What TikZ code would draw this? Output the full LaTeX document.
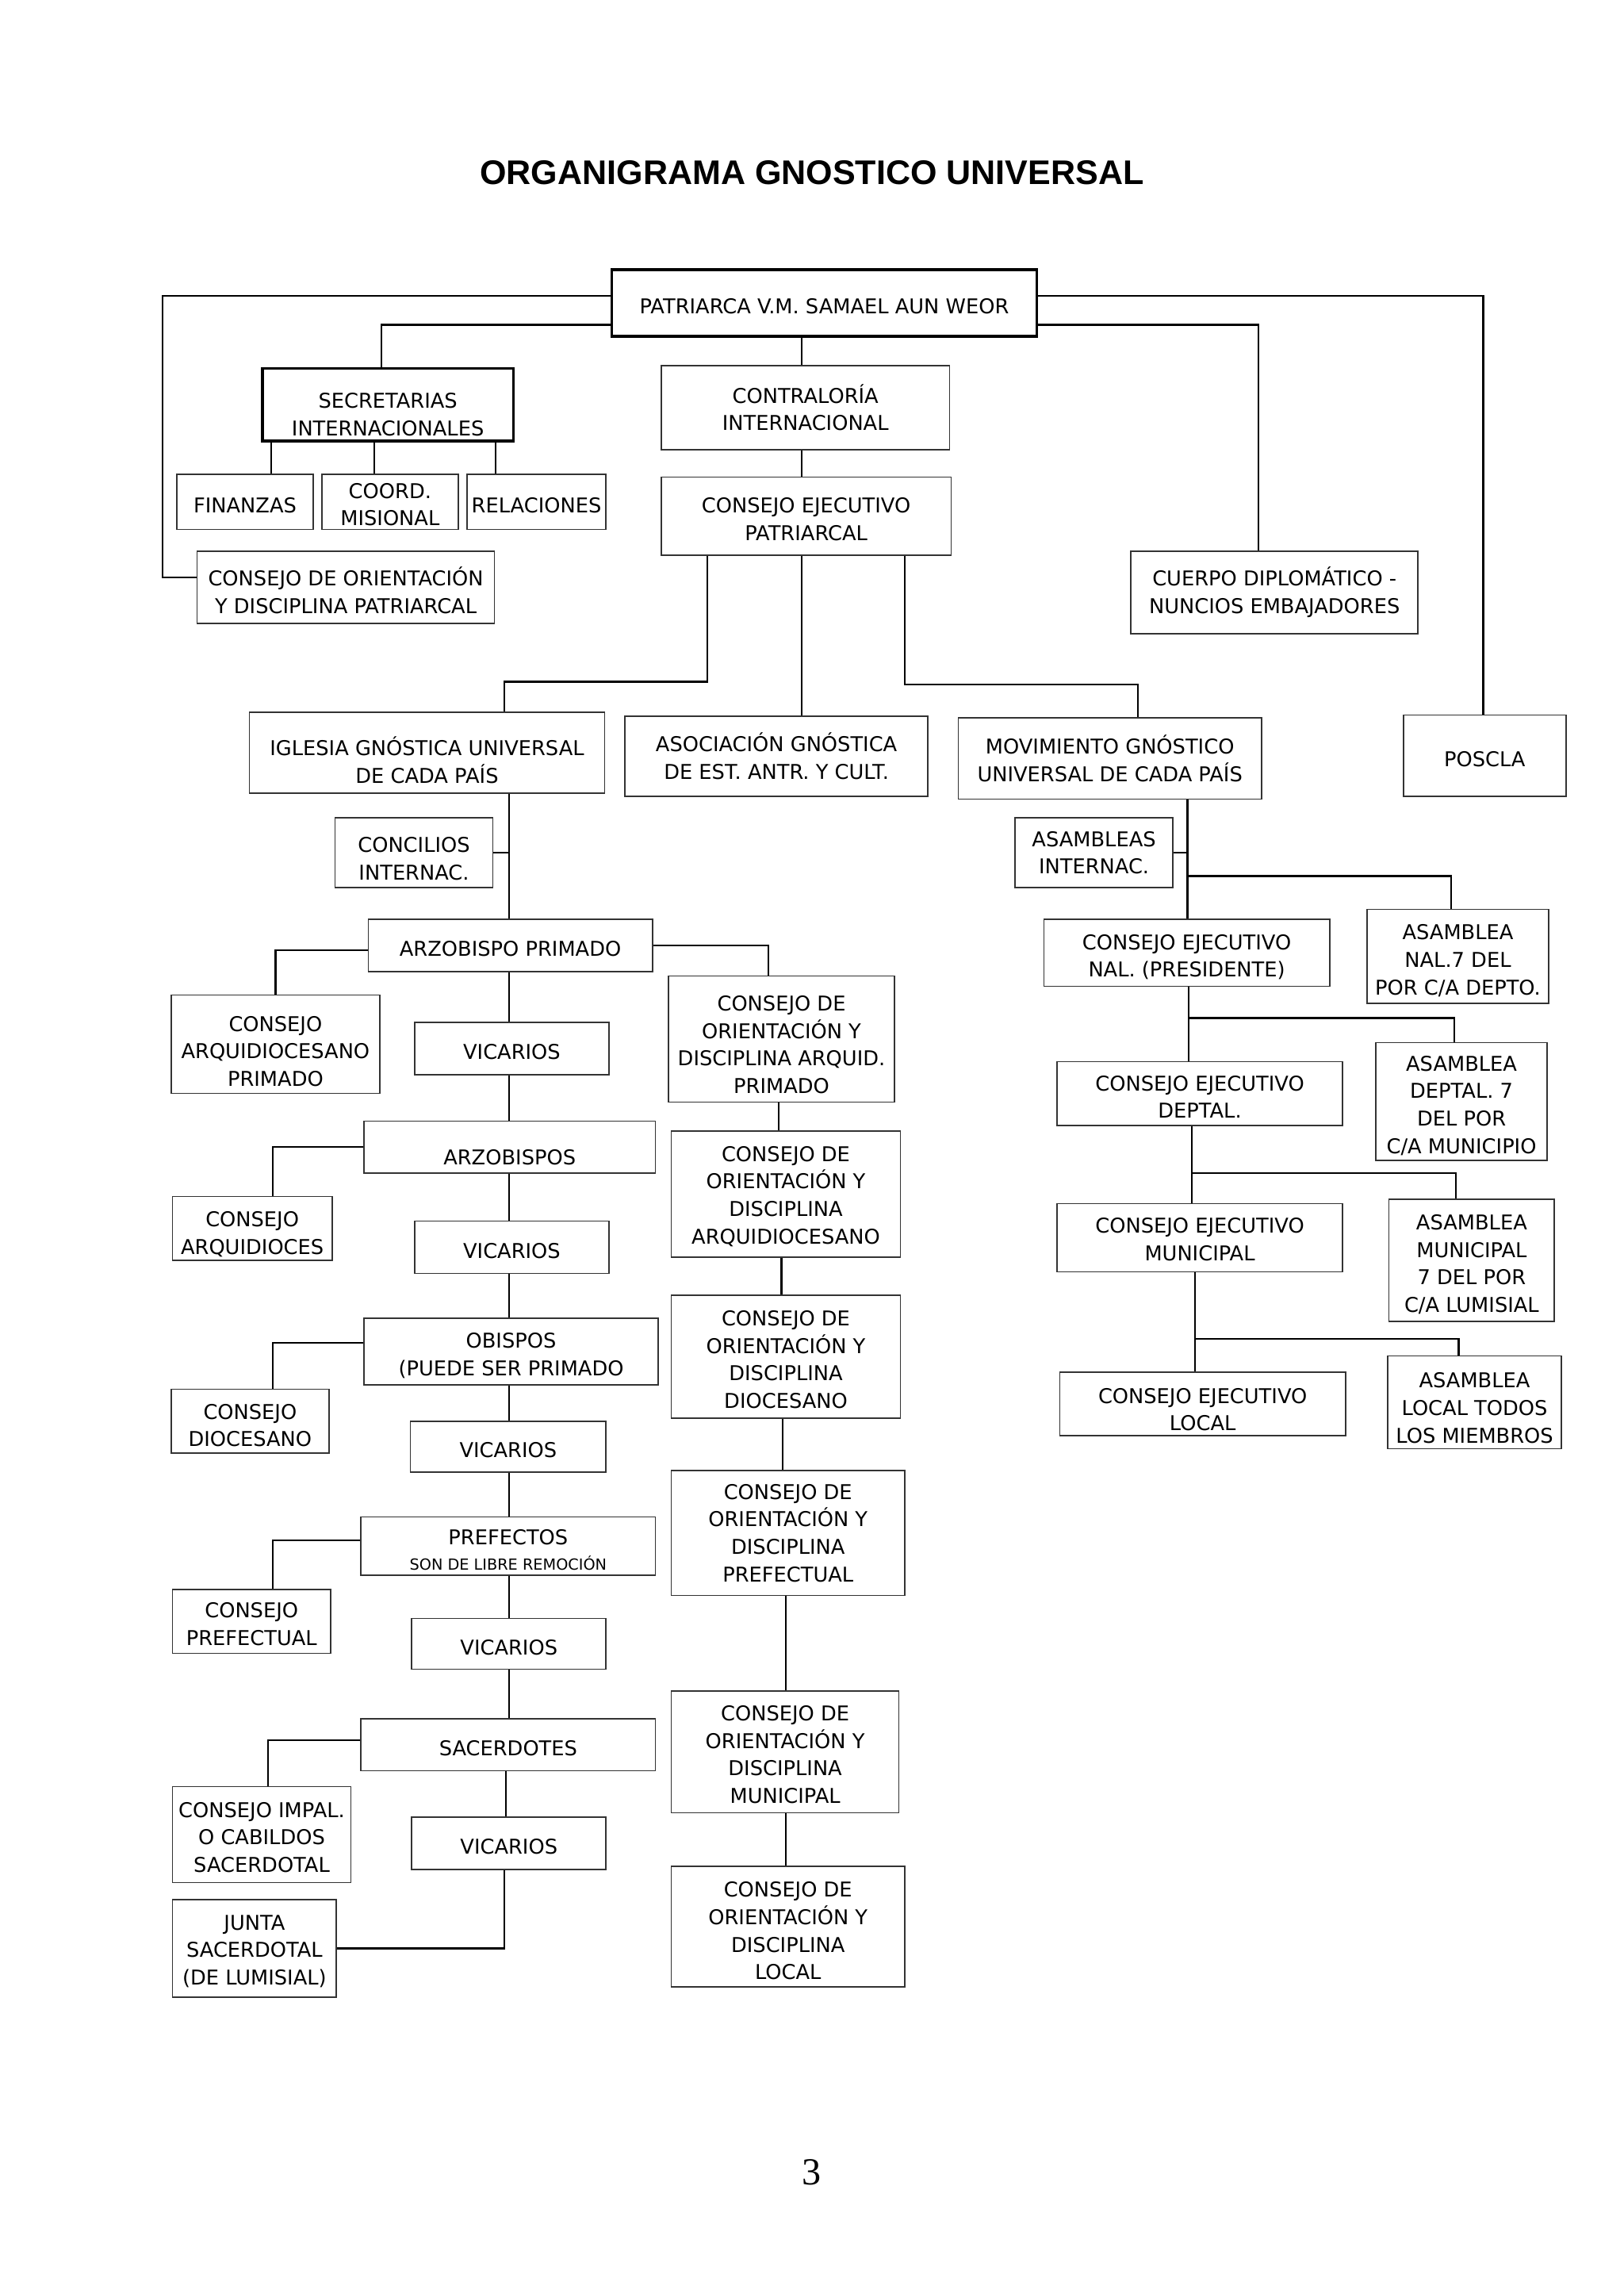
\documentclass[tikz,border=0pt]{standalone}
\usepackage{fontspec}
\setmainfont{DejaVu Sans}
\newfontfamily\titlefont{Liberation Sans}
\newfontfamily\numfont{Liberation Serif}
\newcommand\boxlift{8.7pt}

\begin{document}
\begin{tikzpicture}[x=0.02cm,y=-0.02cm,
    lift/.code 2 args={\pgfmathsetlengthmacro\boxlift{(#1-1)*10.8pt+#2}},
    box/.style={draw=black!80,line width=0.5pt,inner sep=0pt,align=center,font={\fontsize{8}{10.8}\selectfont},
        lift={1}{8.7pt},execute at begin node={\rule{0pt}{\boxlift}}},
    thickbox/.style={box,draw=black,line width=1.1pt},
    boxsize/.style 2 args={minimum width=#1*0.02cm,minimum height=#2*0.02cm},
    conn/.style={line width=0.7pt}]
    \useasboundingbox (0,0) rectangle (1120,1568);

    \node[font={\titlefont\bfseries\fontsize{13.4}{16}\selectfont}] (title) at (560,119) {ORGANIGRAMA GNOSTICO UNIVERSAL};
    \node[font={\numfont\fontsize{15}{18}\selectfont}] (page) at (560,1498) {3};

    \node[thickbox,boxsize={293}{46}] (pat) at (568.5,209) {PATRIARCA V.M. SAMAEL AUN WEOR};
    \node[thickbox,boxsize={173}{50},lift={2}{13.8pt}] (secr) at (267.5,279) {SECRETARIAS\\INTERNACIONALES};
    \node[box,boxsize={94}{38}] (fin) at (169,346) {FINANZAS};
    \node[box,boxsize={94}{38},lift={2}{8.1pt}] (coord) at (269,346) {COORD.\\MISIONAL};
    \node[box,boxsize={96}{38}] (rel) at (370,346) {RELACIONES};
    \node[box,boxsize={205}{50},lift={2}{9.7pt}] (codp) at (238.5,405) {CONSEJO DE ORIENTACIÓN\\Y DISCIPLINA PATRIARCAL};
    \node[box,boxsize={199}{58},lift={2}{0pt}] (contral) at (555.5,281) {CONTRALORÍA\\INTERNACIONAL};
    \node[box,boxsize={200}{54},lift={2}{8.1pt}] (cep) at (556,356) {CONSEJO EJECUTIVO\\PATRIARCAL};
    \node[box,boxsize={198}{57},lift={2}{0pt}] (cuerpo) at (879,408.5) {CUERPO DIPLOMÁTICO -\\NUNCIOS EMBAJADORES};
    \node[box,boxsize={112}{56}] (poscla) at (1024,521) {POSCLA};

    \node[box,boxsize={245}{56},lift={2}{13.1pt}] (igl) at (294.5,519) {IGLESIA GNÓSTICA UNIVERSAL\\DE CADA PAÍS};
    \node[box,boxsize={209}{55},lift={2}{0pt}] (asoc) at (535.5,521.5) {ASOCIACIÓN GNÓSTICA\\DE EST. ANTR. Y CULT.};
    \node[box,boxsize={209}{56},lift={2}{0pt}] (mov) at (765.5,523) {MOVIMIENTO GNÓSTICO\\UNIVERSAL DE CADA PAÍS};

    \node[box,boxsize={109}{48},lift={2}{10.4pt}] (conc) at (285.5,588) {CONCILIOS\\INTERNAC.};
    \node[box,boxsize={196}{36}] (arzp) at (352,652) {ARZOBISPO PRIMADO};
    \node[box,boxsize={144}{68},lift={3}{11.5pt}] (cap) at (190,720) {CONSEJO\\ARQUIDIOCESANO\\PRIMADO};
    \node[box,boxsize={156}{87},lift={4}{10.4pt}] (codap) at (539,716.5) {CONSEJO DE\\ORIENTACIÓN Y\\DISCIPLINA ARQUID.\\PRIMADO};
    \node[box,boxsize={134}{36}] (vica) at (353,723) {VICARIOS};
    \node[box,boxsize={201}{36},lift={1}{13.8pt}] (arzb) at (351.5,791) {ARZOBISPOS};
    \node[box,boxsize={110}{44},lift={2}{10.4pt}] (carq) at (174,847) {CONSEJO\\ARQUIDIOCES};
    \node[box,boxsize={158}{87},lift={4}{7.5pt}] (codarq) at (542,823.5) {CONSEJO DE\\ORIENTACIÓN Y\\DISCIPLINA\\ARQUIDIOCESANO};
    \node[box,boxsize={134}{36}] (vicb) at (353,860) {VICARIOS};
    \node[box,boxsize={203}{46},lift={2}{9.2pt}] (obis) at (352.5,932) {OBISPOS\\(PUEDE SER PRIMADO};
    \node[box,boxsize={109}{44},lift={2}{9.2pt}] (cdioc) at (172.5,980) {CONSEJO\\DIOCESANO};
    \node[box,boxsize={135}{35}] (vicc) at (350.5,997.5) {VICARIOS};
    \node[box,boxsize={158}{85},lift={4}{8.1pt}] (coddioc) at (542,935.5) {CONSEJO DE\\ORIENTACIÓN Y\\DISCIPLINA\\DIOCESANO};
    \node[box,boxsize={161}{86},lift={4}{0pt}] (codpref) at (543.5,1057) {CONSEJO DE\\ORIENTACIÓN Y\\DISCIPLINA\\PREFECTUAL};
    \node[box,boxsize={203}{40},lift={2}{7.9pt}] (pref) at (350.5,1066) {PREFECTOS\\[-1pt]\fontsize{6}{7}\selectfont SON DE LIBRE REMOCIÓN};
    \node[box,boxsize={109}{44},lift={2}{8.1pt}] (cpref) at (173.5,1118) {CONSEJO\\PREFECTUAL};
    \node[box,boxsize={134}{35}] (vicd) at (351,1133.5) {VICARIOS};
    \node[box,boxsize={203}{36}] (sac) at (350.5,1203) {SACERDOTES};
    \node[box,boxsize={157}{84},lift={4}{8.1pt}] (codmun) at (541.5,1208) {CONSEJO DE\\ORIENTACIÓN Y\\DISCIPLINA\\MUNICIPAL};
    \node[box,boxsize={161}{83},lift={4}{9.2pt}] (codloc) at (543.5,1328.5) {CONSEJO DE\\ORIENTACIÓN Y\\DISCIPLINA\\LOCAL};
    \node[box,boxsize={123}{66},lift={3}{8.1pt}] (cimp) at (180.5,1265) {CONSEJO IMPAL.\\O CABILDOS\\SACERDOTAL};
    \node[box,boxsize={134}{36}] (vice) at (351,1271) {VICARIOS};
    \node[box,boxsize={113}{67},lift={3}{8.1pt}] (junta) at (175.5,1343.5) {JUNTA\\SACERDOTAL\\(DE LUMISIAL)};

    \node[box,boxsize={109}{48},lift={2}{0pt}] (asint) at (754.5,588) {ASAMBLEAS\\INTERNAC.};
    \node[box,boxsize={197}{46},lift={2}{9.2pt}] (cenal) at (818.5,657) {CONSEJO EJECUTIVO\\NAL. (PRESIDENTE)};
    \node[box,boxsize={125}{65},lift={3}{9.2pt}] (asnal) at (1005.5,659.5) {ASAMBLEA\\NAL.7 DEL\\POR C/A DEPTO.};
    \node[box,boxsize={197}{44},lift={2}{8.7pt}] (cedep) at (827.5,754) {CONSEJO EJECUTIVO\\DEPTAL.};
    \node[box,boxsize={118}{81},lift={4}{9.2pt}] (asdep) at (1008,759.5) {ASAMBLEA\\DEPTAL. 7\\DEL POR\\C/A MUNICIPIO};
    \node[box,boxsize={197}{47},lift={2}{7pt}] (cemun) at (827.5,853.5) {CONSEJO EJECUTIVO\\MUNICIPAL};
    \node[box,boxsize={114}{84},lift={4}{9.2pt}] (asmun) at (1015,869) {ASAMBLEA\\MUNICIPAL\\7 DEL POR\\C/A LUMISIAL};
    \node[box,boxsize={197}{44},lift={2}{10.4pt}] (celoc) at (829.5,968) {CONSEJO EJECUTIVO\\LOCAL};
    \node[box,boxsize={120}{64},lift={3}{10.4pt}] (asloc) at (1017,967) {ASAMBLEA\\LOCAL TODOS\\LOS MIEMBROS};

    \coordinate (jnal) at (820,604);
    \coordinate (jdep) at (820,702);
    \coordinate (jmun) at (822,809);
    \coordinate (jloc) at (824,923);

    \draw[conn] (pat.west |- 0,204) -- ++(-309,0) |- (codp.west |- 0,398);
    \draw[conn] (pat.east |- 0,204) -| (poscla.north -| 1023,0);
    \draw[conn] (pat.west |- 0,224) -| (secr.north -| 263,0);
    \draw[conn] (pat.east |- 0,224) -| (cuerpo.north -| 868,0);
    \draw[conn] (pat.south -| 553,0) -- (contral.north -| 553,0);
    \draw[conn] (secr.south -| 187,0) -- (fin.north -| 187,0);
    \draw[conn] (secr.south -| 258,0) -- (coord.north -| 258,0);
    \draw[conn] (secr.south -| 342,0) -- (rel.north -| 342,0);
    \draw[conn] (contral.south -| 553,0) -- (cep.north -| 553,0);

    \draw[conn] (cep.south -| 488,0) -- (488,470) -| (igl.north -| 348,0);
    \draw[conn] (cep.south -| 553,0) -- (asoc.north -| 553,0);
    \draw[conn] (cep.south -| 624,0) -- (624,472) -| (mov.north -| 785,0);

    \draw[conn] (igl.south -| 351,0) -- (arzp.north -| 351,0);
    \draw[conn] (conc.east) -- (conc.east -| 351,0);
    \draw[conn] (arzp.west |- 0,655) -| (cap.north);
    \draw[conn] (arzp.east |- 0,652) -| (codap.north -| 530,0);
    \draw[conn] (arzp.south -| 351,0) -- (vica.north -| 351,0);
    \draw[conn] (vica.south -| 351,0) -- (arzb.north -| 351,0);
    \draw[conn] (arzb.west |- 0,791) -| (carq.north -| 188,0);
    \draw[conn] (codap.south -| 537,0) -- (codarq.north -| 537,0);
    \draw[conn] (arzb.south -| 351,0) -- (vicb.north -| 351,0);
    \draw[conn] (vicb.south -| 351,0) -- (obis.north -| 351,0);
    \draw[conn] (obis.west |- 0,926) -| (cdioc.north -| 188,0);
    \draw[conn] (obis.south -| 351,0) -- (vicc.north -| 351,0);
    \draw[conn] (codarq.south -| 539,0) -- (coddioc.north -| 539,0);
    \draw[conn] (coddioc.south -| 540,0) -- (codpref.north -| 540,0);
    \draw[conn] (vicc.south -| 351,0) -- (pref.north -| 351,0);
    \draw[conn] (pref.west |- 0,1062) -| (cpref.north -| 188,0);
    \draw[conn] (pref.south -| 351,0) -- (vicd.north -| 351,0);
    \draw[conn] (vicd.south -| 351,0) -- (sac.north -| 351,0);
    \draw[conn] (codpref.south -| 542,0) -- (codmun.north -| 542,0);
    \draw[conn] (codmun.south -| 542,0) -- (codloc.north -| 542,0);
    \draw[conn] (sac.west |- 0,1200) -| (cimp.north -| 185,0);
    \draw[conn] (sac.south -| 349,0) -- (vice.north -| 349,0);
    \draw[conn] (vice.south -| 348,0) |- (junta.east);

    \draw[conn] (mov.south -| 819,0) -- (cenal.north -| 819,0);
    \draw[conn] (asint.east) -- (asint.east -| 819,0);
    \draw[conn] (jnal) -| (asnal.north -| 1001,0);
    \draw[conn] (cenal.south -| 820,0) -- (cedep.north -| 820,0);
    \draw[conn] (jdep) -| (asdep.north -| 1003,0);
    \draw[conn] (cedep.south -| 822,0) -- (cemun.north -| 822,0);
    \draw[conn] (jmun) -| (asmun.north -| 1004,0);
    \draw[conn] (cemun.south -| 824,0) -- (celoc.north -| 824,0);
    \draw[conn] (jloc) -| (asloc.north -| 1006,0);
\end{tikzpicture}
\end{document}
